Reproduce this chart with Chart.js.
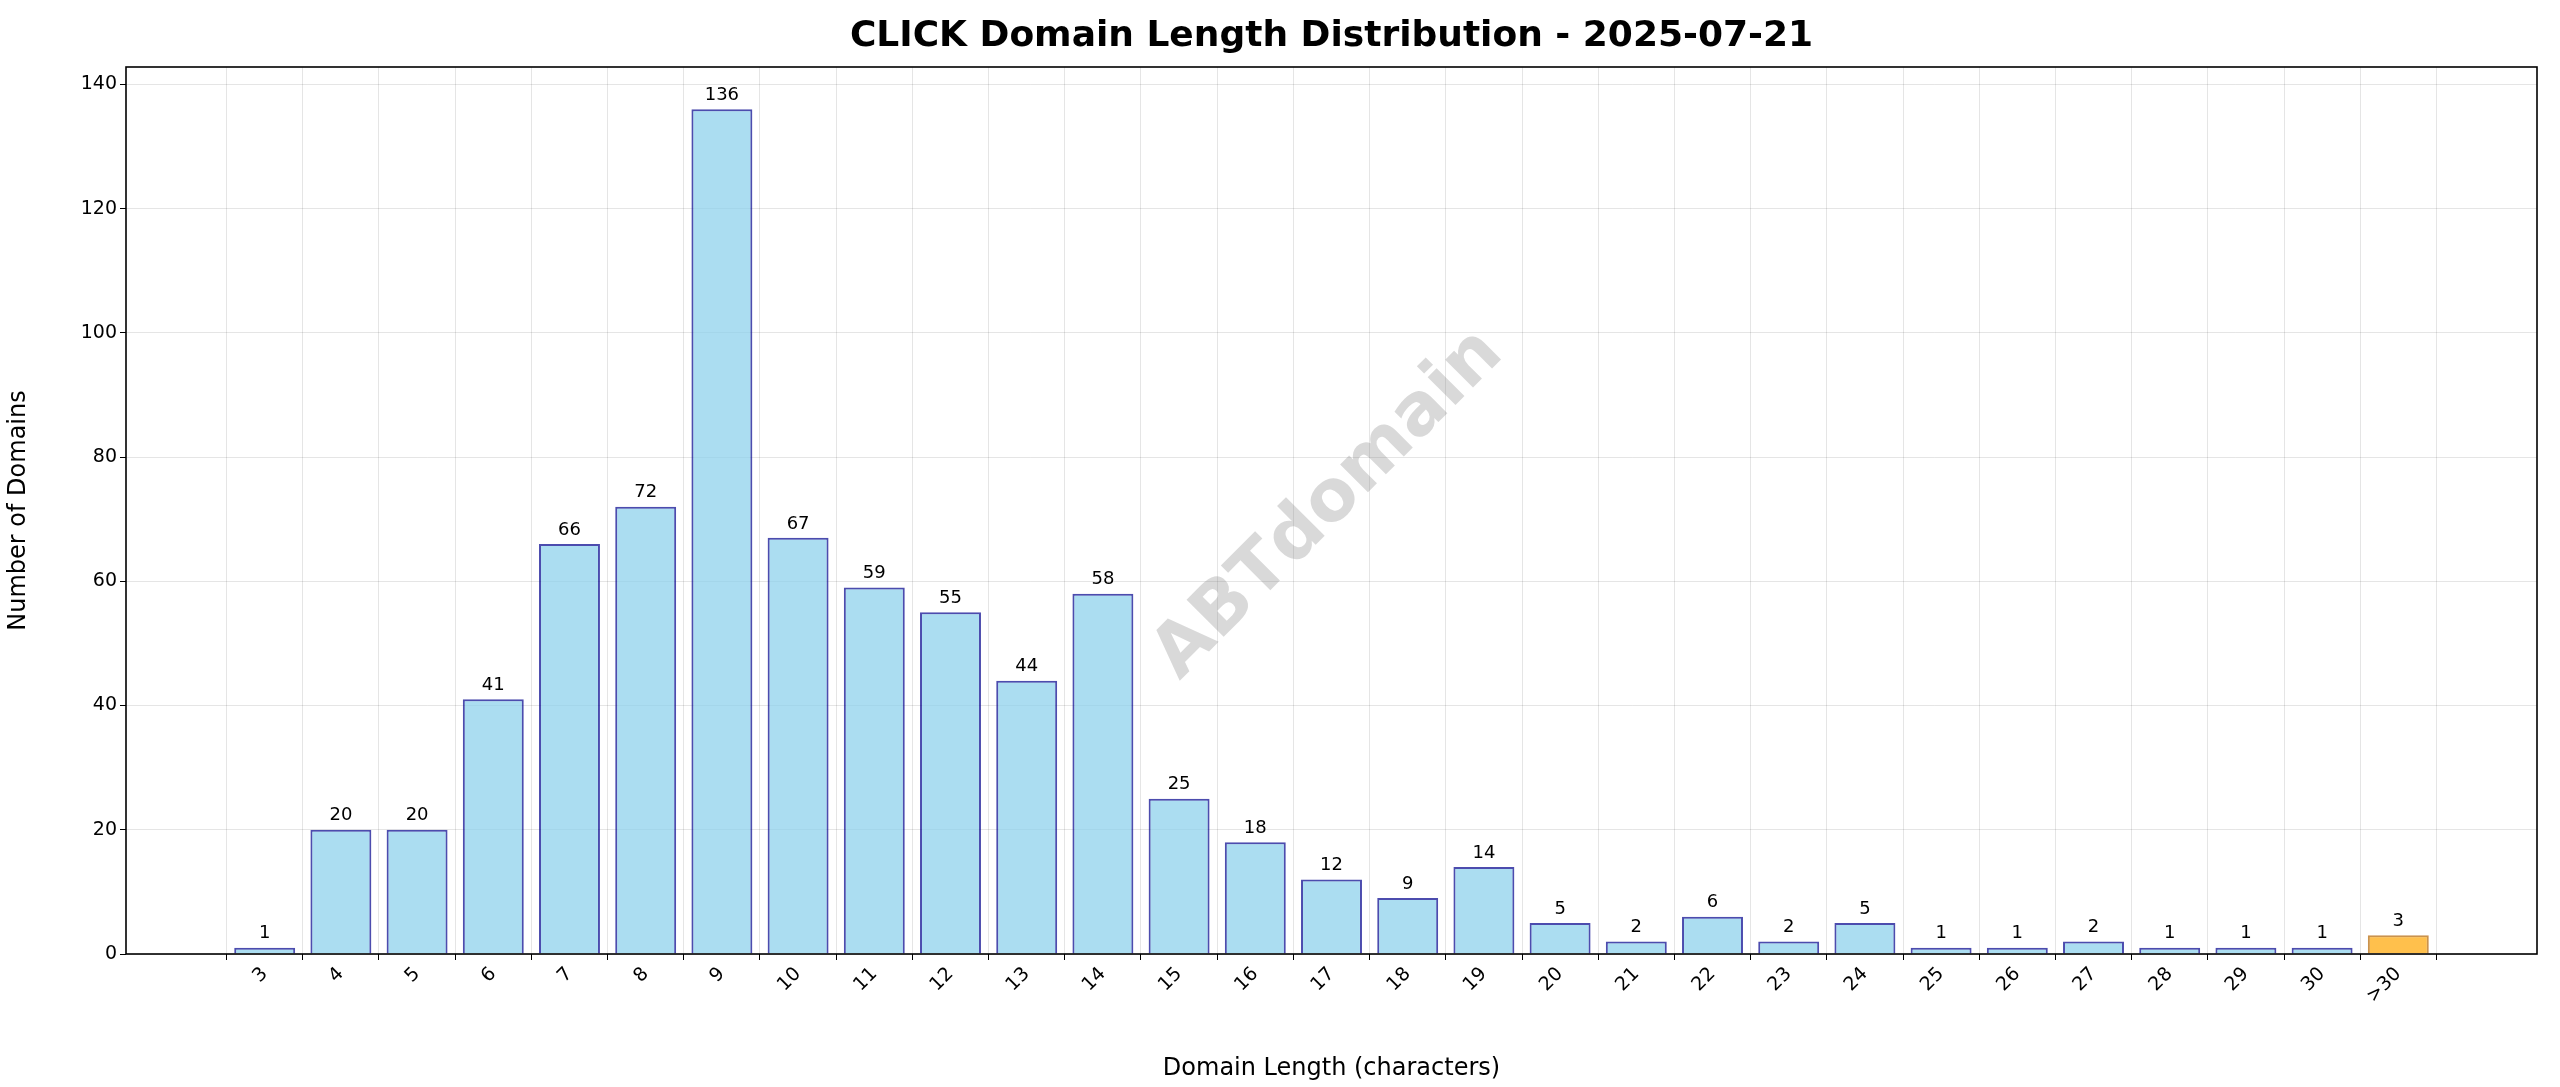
<!DOCTYPE html>
<html><head><meta charset="utf-8">
<script src="https://cdn.jsdelivr.net/npm/chart.js@4"></script>
<style>body{margin:0;background:#fff}canvas{display:block}</style>
</head><body>
<canvas id="c" width="2560" height="1087"></canvas>
<script>
const categories = ["3","4","5","6","7","8","9","10","11","12","13","14","15","16","17","18","19","20","21","22","23","24","25","26","27","28","29","30",">30"];
const counts = [1,20,20,41,66,72,136,67,59,55,44,58,25,18,12,9,14,5,2,6,2,5,1,1,2,1,1,1,3];
const titleText = "CLICK Domain Length Distribution - 2025-07-21";
const watermark = "ABTdomain";

const F = "'DejaVu Sans', sans-serif";
const fill = counts.map((v,i)=> categories[i]===">30" ? 'rgba(255,165,0,0.7)' : 'rgba(135,206,235,0.7)');
const border = counts.map((v,i)=> categories[i]===">30" ? 'rgba(180,100,0,0.7)' : 'rgba(0,0,139,0.7)');

const extras = {
  id:'extras',
  afterDatasetsDraw(chart){
    const ctx = chart.ctx, a = chart.chartArea, xs = chart.scales.x, ys = chart.scales.y;
    ctx.save();
    ctx.font = "18px " + F; ctx.fillStyle = '#000'; ctx.textAlign='center'; ctx.textBaseline='bottom';
    counts.forEach((v,i)=>{ ctx.fillText(String(v), xs.getPixelForValue(i), ys.getPixelForValue(v)-5); });
    ctx.strokeStyle='#000'; ctx.lineWidth=1.6; ctx.strokeRect(a.left,a.top,a.right-a.left,a.bottom-a.top);
    ctx.translate(1329,505); ctx.rotate(-Math.PI/4);
    ctx.font = "bold 72px " + F; ctx.fillStyle='rgba(128,128,128,0.3)'; ctx.textBaseline='middle';
    ctx.fillText(watermark,0,0);
    ctx.restore();
    ctx.save();
    ctx.font = "bold 36px " + F; ctx.fillStyle='#000'; ctx.textAlign='center'; ctx.textBaseline='middle';
    ctx.fillText(titleText,(a.left+a.right)/2,37);
    ctx.restore();
  }
};

new Chart(document.getElementById('c'),{
  type:'bar',
  data:{datasets:[{data:counts.map((v,i)=>({x:i,y:v})),backgroundColor:fill,borderColor:border,borderWidth:2,barPercentage:0.8,categoryPercentage:1}]},
  options:{
    responsive:false, animation:false, devicePixelRatio:1,
    layout:{padding:{top:67,right:23,left:0,bottom:0}},
    plugins:{legend:{display:false},tooltip:{enabled:false}},
    scales:{
      x:{type:'linear',min:-1.82,max:29.82,offset:false,
        afterBuildTicks(s){ s.ticks = categories.map((c,i)=>({value:i})); },
        afterFit(s){ s.height = 133; },
        grid:{color:'rgba(0,0,0,0.1)',drawTicks:true,tickLength:6,tickColor:'#000'},
        border:{display:false},
        ticks:{callback:(v)=>categories[v]??'',minRotation:45,maxRotation:45,autoSkip:false,color:'#000',font:{family:F,size:19}},
        title:{display:true,text:'Domain Length (characters)',color:'#000',font:{family:F,size:24},padding:{top:8}}
      },
      y:{min:0,max:142.8,
        afterBuildTicks(s){ s.ticks=[0,20,40,60,80,100,120,140].map(v=>({value:v})); },
        afterFit(s){ s.width = 126; },
        grid:{color:'rgba(0,0,0,0.1)',tickLength:6,tickColor:'#000'},
        border:{display:false},
        ticks:{color:'#000',font:{family:F,size:19}},
        title:{display:true,text:'Number of Domains',color:'#000',font:{family:F,size:24}}
      }
    }
  },
  plugins:[extras]
});
</script>
</body></html>
